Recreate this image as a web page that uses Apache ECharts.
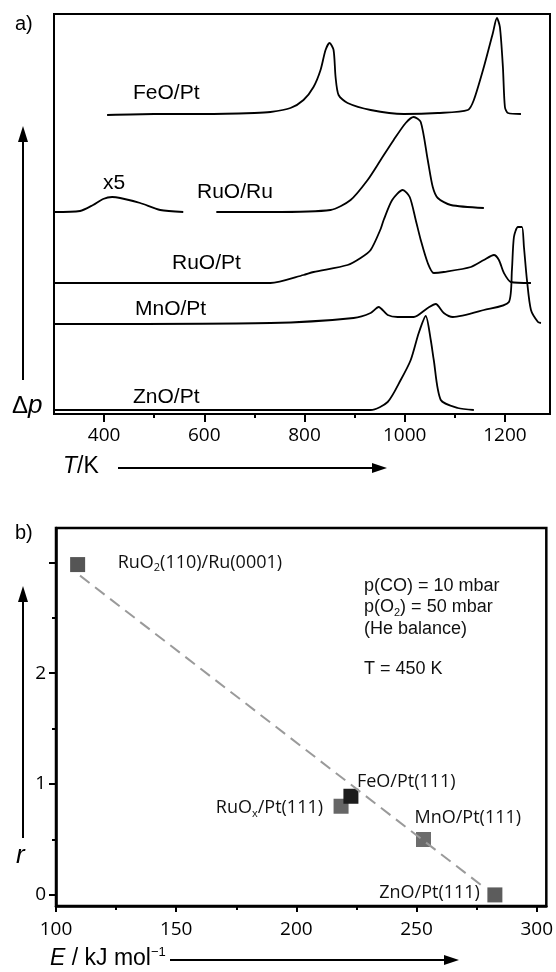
<!DOCTYPE html>
<html>
<head>
<meta charset="utf-8">
<script src="https://cdn.jsdelivr.net/npm/echarts@6/dist/echarts.min.js"></script>
<style>
  html, body { margin: 0; padding: 0; background: #fff; }
  #main { width: 556px; height: 972px; }
</style>
</head>
<body>
<div id="main"></div>
<script>
// panel a: TPD traces, T in K, signal in arbitrary offset units
var feoT = [406, 500, 600, 700, 732, 772, 798, 818, 832, 842, 850, 858, 862, 868, 886, 932, 998, 1066, 1126, 1138, 1158, 1176, 1184, 1190, 1196, 1200, 1206, 1232];
var feoV = [299, 300, 300, 301, 302, 306, 314, 327, 344, 364, 371, 364, 337, 319, 311, 304, 300, 301, 304, 314, 347, 381, 396, 387, 347, 307, 301, 300];
var ruRuLowT = [300, 352, 378, 398, 416, 432, 472, 512, 558];
var ruRuLowV = [202, 203, 209, 215, 217, 216, 211, 204, 202];
var ruRuT = [624, 732, 852, 892, 926, 952, 978, 1002, 1018, 1032, 1046, 1056, 1066, 1092, 1158];
var ruRuV = [202, 202, 204, 214, 234, 254, 274, 291, 297, 292, 254, 227, 216, 209, 206];
var ruPtT = [300, 600, 732, 798, 818, 886, 912, 932, 952, 958, 975, 996, 1010, 1022, 1032, 1046, 1058, 1078, 1132, 1158, 1178, 1188, 1198, 1212, 1252];
var ruPtV = [131, 131, 131, 139, 142, 149, 156, 164, 185, 194, 214, 224, 217, 194, 174, 151, 141, 142, 147, 154, 159, 154, 141, 132, 131];
var mnPtT = [300, 732, 898, 932, 948, 966, 986, 1018, 1046, 1062, 1078, 1096, 1158, 1208, 1214, 1218, 1226, 1234, 1238, 1244, 1252, 1266, 1272];
var mnPtV = [90, 91, 96, 101, 107, 99, 97, 97, 106, 110, 101, 97, 104, 112, 144, 177, 187, 187, 167, 134, 104, 92, 91];
var znPtT = [300, 932, 966, 992, 1012, 1028, 1042, 1052, 1058, 1072, 1106, 1138];
var znPtV = [4, 4, 12, 34, 54, 81, 98, 74, 54, 14, 6, 4];

var ticksA = [400, 600, 800, 1000, 1200];
var minorA = [500, 700, 900, 1100];

// panel b: rate vs energy
var catNames = ['RuO{s|2}(110)/Ru(0001)', 'RuO{s|x}/Pt(111)', 'FeO/Pt(111)', 'MnO/Pt(111)', 'ZnO/Pt(111)'];
var energy = [109, 218.6, 222.7, 252.9, 282.6];
var rate = [2.98, 0.80, 0.89, 0.50, 0.0];
var fitE = [110, 278];
var fitR = [2.88, 0.07];

var ticksE = [100, 150, 200, 250, 300];
var minorE = [125, 175, 225, 275];
var ticksR = [0, 1, 2, 3];
var labelsR = [0, 1, 2];
var minorR = [0.5, 1.5, 2.5];

function zip(a, b) {
    return a.map(function (v, i) { return [v, b[i]]; });
}

var pointColors = ['#555', '#666', '#1c1c1c', '#6c6c6c', '#5c5c5c'];
var labelPos = [[47.5, 5.5], [-10.5, 9.5], [13.5, -7], [-1.5, -14.5], [-7.5, 5.5]];
var labelAlign = ['left', 'right', 'left', 'left', 'right'];

var tickFont = {
    fontFamily: 'Open Sans', fontSize: 19, color: '#000',
    formatter: function (v) { return String(v); }
};

var myChart = echarts.init(document.getElementById('main'));

function trace(name, t, v) {
    return {
        name: name,
        type: 'line',
        xAxisIndex: 0,
        yAxisIndex: 0,
        data: zip(t, v),
        showSymbol: false,
        smooth: 0.25,
        lineStyle: { color: '#000', width: 1.8 },
        silent: true
    };
}

function minorAxis(grid, min, max, vals, pos) {
    return {
        type: 'value', gridIndex: grid, min: min, max: max, position: pos,
        axisLine: { show: false, onZero: false },
        axisTick: { customValues: vals, length: 4, lineStyle: { color: '#000', width: 2 } },
        axisLabel: { show: false },
        splitLine: { show: false }
    };
}

var option = {
    animation: false,
    backgroundColor: '#fff',
    grid: [
        { left: 54, top: 14, width: 496, height: 400, show: true, borderColor: '#000', borderWidth: 2 },
        { left: 56, top: 528, width: 494, height: 378, show: true, borderColor: '#000', borderWidth: 2.5 }
    ],
    xAxis: [
        {
            type: 'value', gridIndex: 0, min: 300, max: 1290, position: 'bottom',
            axisLine: { onZero: false, lineStyle: { color: '#000', width: 2 } },
            axisTick: { customValues: ticksA, length: 8, lineStyle: { color: '#000', width: 2 } },
            axisLabel: Object.assign({ customValues: ticksA, margin: 12 }, tickFont),
            splitLine: { show: false }
        },
        minorAxis(0, 300, 1290, minorA, 'bottom'),
        {
            type: 'value', gridIndex: 1, min: 100, max: 304, position: 'bottom',
            axisLine: { onZero: false, lineStyle: { color: '#000', width: 2.5 } },
            axisTick: { customValues: ticksE, length: 6, lineStyle: { color: '#000', width: 2 } },
            axisLabel: Object.assign({ customValues: ticksE, margin: 14 }, tickFont),
            splitLine: { show: false }
        },
        minorAxis(1, 100, 304, minorE, 'bottom')
    ],
    yAxis: [
        {
            type: 'value', gridIndex: 0, min: 0, max: 400, position: 'left',
            axisLine: { show: true, onZero: false, lineStyle: { color: '#000', width: 2 } },
            axisTick: { show: false },
            axisLabel: { show: false },
            splitLine: { show: false }
        },
        {
            type: 'value', gridIndex: 1, min: -0.1, max: 3.31, position: 'left',
            axisLine: { show: true, onZero: false, lineStyle: { color: '#000', width: 2.5 } },
            axisTick: { customValues: ticksR, length: 7, lineStyle: { color: '#000', width: 2 } },
            axisLabel: Object.assign({ customValues: labelsR, margin: 10 }, tickFont),
            splitLine: { show: false }
        },
        minorAxis(1, -0.1, 3.31, minorR, 'left')
    ],
    series: [
        trace('FeO/Pt', feoT, feoV),
        trace('RuO/Ru x5', ruRuLowT, ruRuLowV),
        trace('RuO/Ru', ruRuT, ruRuV),
        trace('RuO/Pt', ruPtT, ruPtV),
        trace('MnO/Pt', mnPtT, mnPtV),
        trace('ZnO/Pt', znPtT, znPtV),
        {
            name: 'catalysts',
            type: 'scatter',
            xAxisIndex: 2,
            yAxisIndex: 1,
            symbol: 'rect',
            symbolSize: 15,
            z: 3,
            data: energy.map(function (e, i) {
                return {
                    value: [e, rate[i]],
                    itemStyle: { color: pointColors[i], opacity: 1 },
                    label: {
                        show: true,
                        position: labelPos[i],
                        align: labelAlign[i],
                        verticalAlign: 'middle',
                        formatter: catNames[i],
                        fontFamily: 'Open Sans', fontSize: 18, color: '#111', lineHeight: 22,
                        rich: {
                            s: { fontFamily: 'Open Sans', fontSize: 11, color: '#111', lineHeight: 11, verticalAlign: 'bottom' }
                        }
                    }
                };
            })
        },
        {
            name: 'fit',
            type: 'line',
            xAxisIndex: 2,
            yAxisIndex: 1,
            data: zip(fitE, fitR),
            showSymbol: false,
            z: 4,
            lineStyle: { color: '#9a9a9a', width: 2, type: [12, 7] }
        }
    ],
    graphic: [
        { type: 'text', left: 15, top: 14, style: { text: 'a)', font: '20px "Liberation Sans"', fill: '#000' } },
        { type: 'text', left: 15, top: 523, style: { text: 'b)', font: '20px "Liberation Sans"', fill: '#000' } },

        { type: 'text', x: 133, y: 93, style: { text: 'FeO/Pt', font: '21px "Liberation Sans"', fill: '#000', textVerticalAlign: 'middle' } },
        { type: 'text', x: 114, y: 183, style: { text: 'x5', font: '21px "Liberation Sans"', fill: '#000', textAlign: 'center', textVerticalAlign: 'middle' } },
        { type: 'text', x: 197, y: 192, style: { text: 'RuO/Ru', font: '21px "Liberation Sans"', fill: '#000', textVerticalAlign: 'middle' } },
        { type: 'text', x: 172, y: 263, style: { text: 'RuO/Pt', font: '21px "Liberation Sans"', fill: '#000', textVerticalAlign: 'middle' } },
        { type: 'text', x: 135, y: 309, style: { text: 'MnO/Pt', font: '21px "Liberation Sans"', fill: '#000', textVerticalAlign: 'middle' } },
        { type: 'text', x: 133, y: 397, style: { text: 'ZnO/Pt', font: '21px "Liberation Sans"', fill: '#000', textVerticalAlign: 'middle' } },

        { type: 'text', x: 12, y: 406, style: {
            text: '{a|Δ}{b|p}', textVerticalAlign: 'middle',
            rich: { a: { font: '24px "Liberation Sans"', fill: '#000' }, b: { font: 'italic 26px "Liberation Sans"', fill: '#000' } }
        } },
        { type: 'text', x: 63, y: 467, style: {
            text: '{i|T}{n|/K}', textVerticalAlign: 'middle',
            rich: { i: { font: 'italic 23px "Liberation Sans"', fill: '#000' }, n: { font: '23px "Liberation Sans"', fill: '#000' } }
        } },
        { type: 'text', x: 16, y: 856, style: { text: 'r', font: 'italic 26px "Liberation Sans"', fill: '#000', textVerticalAlign: 'middle' } },
        { type: 'text', x: 50, y: 959, style: {
            text: '{i|E}{n| / kJ mol}{s|−1}', textVerticalAlign: 'middle',
            rich: {
                i: { font: 'italic 23px "Liberation Sans"', fill: '#000', lineHeight: 26 },
                n: { font: '23px "Liberation Sans"', fill: '#000', lineHeight: 26 },
                s: { font: '13px "Liberation Sans"', fill: '#000', lineHeight: 13, verticalAlign: 'top' }
            }
        } },

        { type: 'text', x: 364, y: 586, style: { text: 'p(CO) = 10 mbar', font: '18px "Liberation Sans"', fill: '#111', textVerticalAlign: 'middle' } },
        { type: 'text', x: 364, y: 607, style: {
            text: '{n|p(O}{s|2}{n|) = 50 mbar}', textVerticalAlign: 'middle',
            rich: {
                n: { font: '18px "Liberation Sans"', fill: '#111', lineHeight: 22 },
                s: { font: '11px "Liberation Sans"', fill: '#111', lineHeight: 11, verticalAlign: 'bottom' }
            }
        } },
        { type: 'text', x: 364, y: 629, style: { text: '(He balance)', font: '18px "Liberation Sans"', fill: '#111', textVerticalAlign: 'middle' } },
        { type: 'text', x: 364, y: 669, style: { text: 'T = 450 K', font: '18px "Liberation Sans"', fill: '#111', textVerticalAlign: 'middle' } },

        // axis arrows
        { type: 'polyline', shape: { points: [[23, 380], [23, 138]] }, style: { stroke: '#000', lineWidth: 2 } },
        { type: 'polygon', shape: { points: [[23, 126], [18, 142], [28, 142]] }, style: { fill: '#000' } },
        { type: 'polyline', shape: { points: [[118, 468], [376, 468]] }, style: { stroke: '#000', lineWidth: 2 } },
        { type: 'polygon', shape: { points: [[387, 468], [372, 463], [372, 473]] }, style: { fill: '#000' } },
        { type: 'polyline', shape: { points: [[23, 838], [23, 598]] }, style: { stroke: '#000', lineWidth: 2 } },
        { type: 'polygon', shape: { points: [[23, 586], [18, 602], [28, 602]] }, style: { fill: '#000' } },
        { type: 'polyline', shape: { points: [[170, 960], [448, 960]] }, style: { stroke: '#000', lineWidth: 2 } },
        { type: 'polygon', shape: { points: [[459, 960], [444, 955], [444, 965]] }, style: { fill: '#000' } }
    ]
};

myChart.setOption(option);
</script>
</body>
</html>
